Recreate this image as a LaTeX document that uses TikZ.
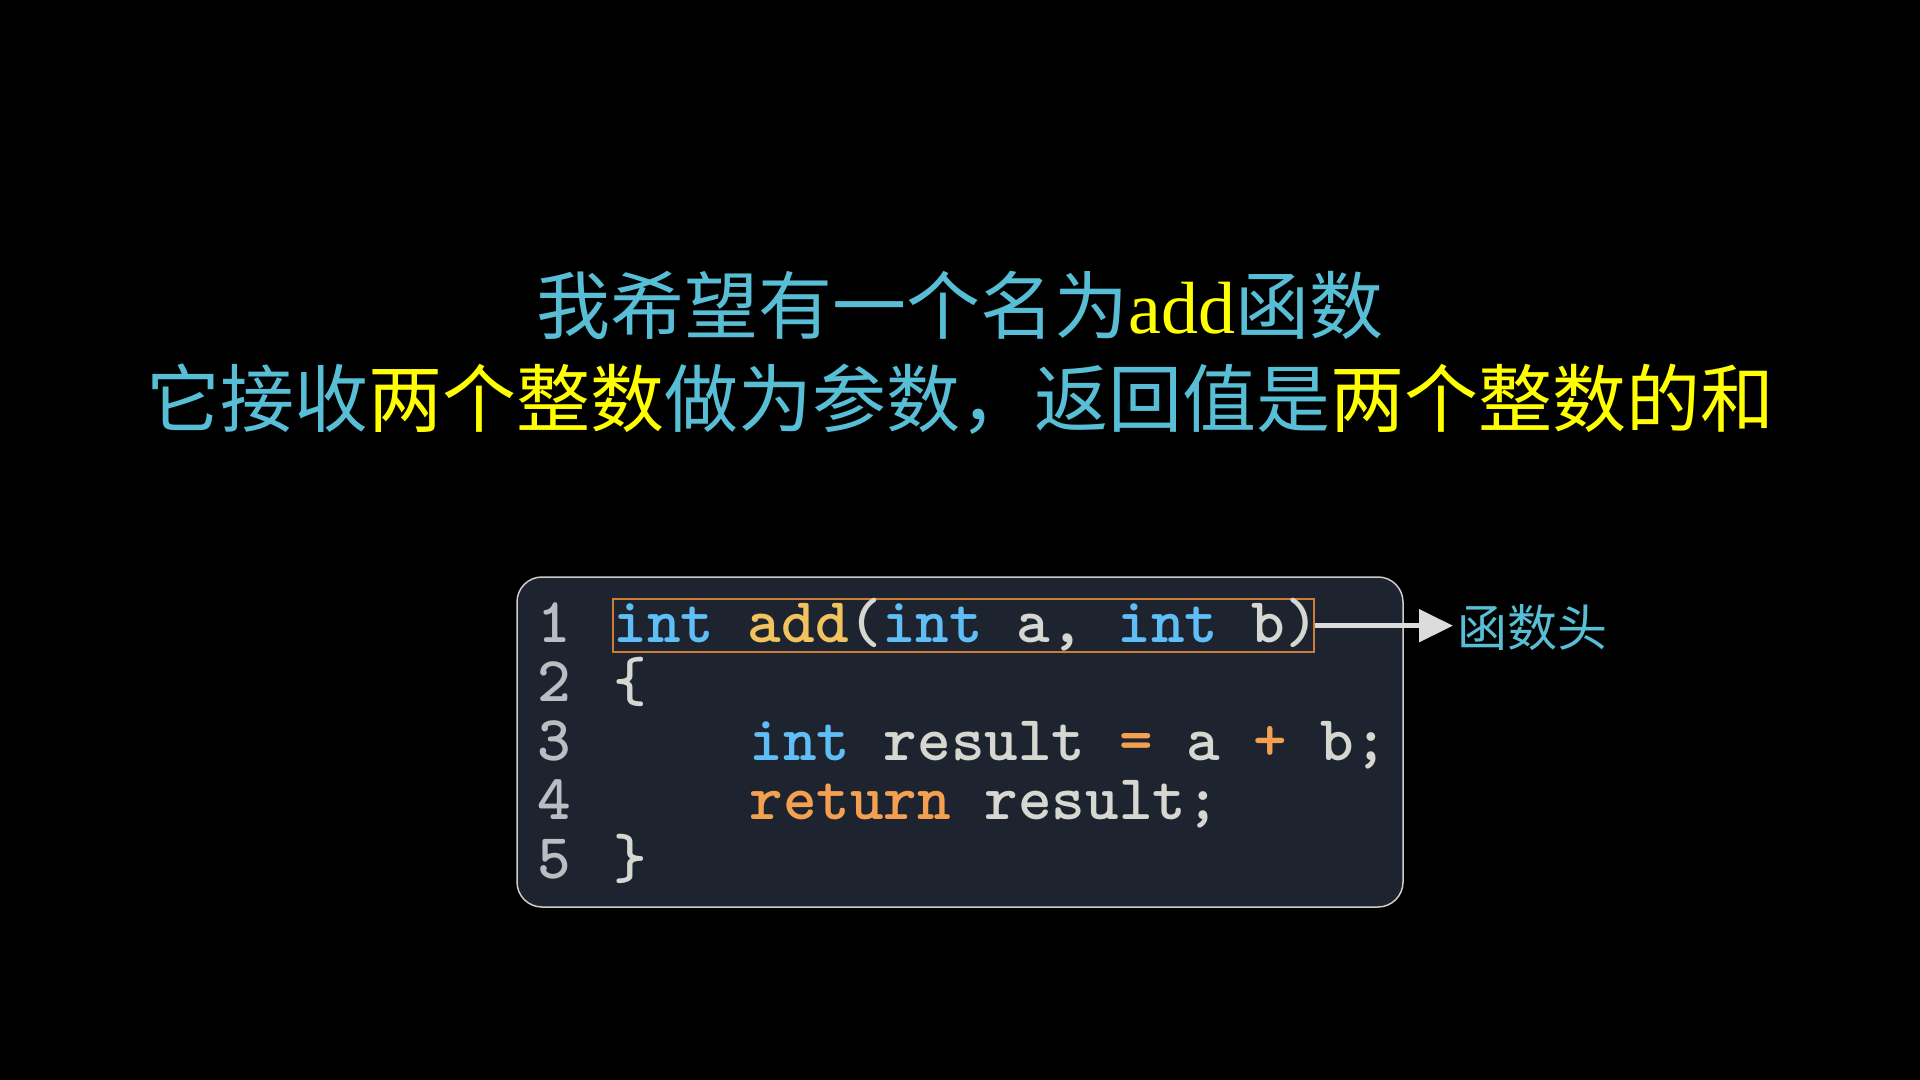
\documentclass[tikz,border=0pt]{standalone}
\usepackage{fontspec}
\setmainfont{Liberation Serif}
\newfontfamily\cjk{Noto Sans CJK SC}
\usetikzlibrary{arrows.meta}
\definecolor{titlecyan}{RGB}{88,190,214}
\definecolor{titleyellow}{RGB}{255,255,0}
\definecolor{kwblue}{RGB}{95,190,245}
\definecolor{fnyellow}{RGB}{240,195,95}
\definecolor{codetxt}{RGB}{215,215,210}
\definecolor{oporange}{RGB}{245,160,80}
\definecolor{lnumgray}{RGB}{185,190,195}
\definecolor{boxfill}{RGB}{30,36,47}
\definecolor{boxline}{RGB}{205,205,205}
\definecolor{hdrline}{RGB}{205,125,55}
\definecolor{arrowgray}{RGB}{220,220,220}
\tikzset{
  titletext/.style={anchor=base, inner sep=0pt, text=titlecyan, font=\cjk\fontsize{37pt}{44pt}\selectfont},
  codebox/.style={draw=boxline, line width=0.75pt, fill=boxfill, rounded corners=12.5pt, minimum width=443pt, minimum height=165pt, inner sep=0pt},
  codeline/.style={anchor=base west, inner sep=0pt, text=codetxt, font=\ttfamily\bfseries\fontsize{32pt}{38pt}\selectfont},
  linenum/.style={codeline, text=lnumgray},
  hdrbox/.style={draw=hdrline, line width=1.2pt, minimum width=350.5pt, minimum height=26.5pt, inner sep=0pt, anchor=north west},
  pointer/.style={draw=arrowgray, line width=2.5pt, -{Triangle[length=17pt,width=16pt]}},
  labeltext/.style={anchor=base west, inner sep=0pt, text=titlecyan, font=\cjk\fontsize{25pt}{30pt}\selectfont}
}
\begin{document}
\begin{tikzpicture}[x=0.5pt,y=-0.5pt]
\fill[black] (0,0) rectangle (1920,1080);
\useasboundingbox (0,0) rectangle (1920,1080);

\node[titletext] (title1) at (960,334) {我希望有一个名为{\rmfamily\color{titleyellow}add}函数};
\node[titletext] (title2) at (960,426) {它接收{\color{titleyellow}两个整数}做为参数，返回值是{\color{titleyellow}两个整数的和}};

\node[codebox] (box) at (960,742) {};
\node[hdrbox] (hdr) at (612,598) {};

\node[linenum] (n1) at (537,642) {1};
\node[linenum] (n2) at (537,701) {2};
\node[linenum] (n3) at (537,760) {3};
\node[linenum] (n4) at (537,819) {4};
\node[linenum] (n5) at (537,878) {5};

\node[codeline] (c1) at (613,642) {{\color{kwblue}int} {\color{fnyellow}add}(\textcolor{kwblue}{int} a, \textcolor{kwblue}{int} b)};
\node[codeline] (c2) at (613,701) {\{};
\node[codeline] (c3) at (749,760) {{\color{kwblue}int} result {\color{oporange}=} a {\color{oporange}+} b;};
\node[codeline] (c4) at (749,819) {{\color{oporange}return} result;};
\node[codeline] (c5) at (613,878) {\}};

\node[labeltext] (lbl) at (1457,646) {函数头};
\draw[pointer] (hdr.east) -- ([xshift=-2pt]hdr.east -| lbl.west);
\end{tikzpicture}
\end{document}
